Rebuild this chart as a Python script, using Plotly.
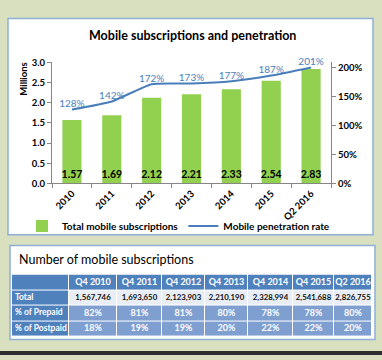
import plotly.graph_objects as go

# ---------------- data ----------------
years = ["2010", "2011", "2012", "2013", "2014", "2015", "Q2 2016"]
subs_millions = [1.57, 1.69, 2.12, 2.21, 2.33, 2.54, 2.83]
penetration_pct = [128, 142, 172, 173, 177, 187, 201]
right_ticks = [0, 50, 100, 150, 200]

table_cols = ["", "Q4 2010", "Q4 2011", "Q4 2012", "Q4 2013", "Q4 2014", "Q4 2015", "Q2 2016"]
row_labels = ["Total", "% of Prepaid", "% of Postpaid"]
totals = ["1,567,746", "1,693,650", "2,123,903", "2,210,190", "2,328,994", "2,541,688", "2,826,755"]
prepaid = ["82%", "81%", "81%", "80%", "78%", "78%", "80%"]
postpaid = ["18%", "19%", "19%", "20%", "22%", "22%", "20%"]

# ---------------- layout constants ----------------
W, H = 382, 360
FONT = "Lato"
BLUE_LINE = "#4a7ebb"
GREEN = "#92d050"
COL_W = [57, 48, 45, 43, 43, 45, 41, 38]   # table column widths (px)
ROW_H = 16                                  # table row height (px)
HDR_BLUE, LIGHT, MID_BLUE = "#4f81bd", "#e9edf4", "#7f9fd0"


def px_x(x):
    return x / W


def px_y(y):
    return 1 - y / H


fig = go.Figure()

fig.add_trace(go.Bar(
    x=years, y=subs_millions, name="Total mobile subscriptions",
    marker=dict(color=GREEN, line=dict(width=0)), width=0.48,
    text=[f"{v:.2f}" for v in subs_millions], textposition="inside",
    insidetextanchor="start", textangle=0, constraintext="none",
    textfont=dict(family=FONT, size=10.5, color="#000000", weight="bold"),
    cliponaxis=False,
))
fig.add_trace(go.Scatter(
    x=years, y=penetration_pct, name="Mobile penetration rate", yaxis="y2",
    mode="lines+text", line=dict(color=BLUE_LINE, width=2, shape="spline", smoothing=0.5),
    text=[f"{v}%" for v in penetration_pct], textposition="top center",
    textfont=dict(family=FONT, size=10, color=BLUE_LINE),
    cliponaxis=False,
))

# ---------------- table (heatmap cells + text) ----------------
edges = [0]
for w in COL_W:
    edges.append(edges[-1] + w)
n_rows = 1 + len(row_labels)
row_edges = [i * ROW_H for i in range(n_rows + 1)]
body = [totals, prepaid, postpaid]

# colour class per cell: 0 header/first column, 1 light row, 2 mid-blue rows
z = [[0] * len(table_cols)]
for r in range(len(row_labels)):
    z.append([0] + [1 if r == 0 else 2] * len(totals))

fig.add_trace(go.Heatmap(
    x=edges, y=row_edges, z=z, zmin=0, zmax=2, showscale=False, hoverinfo="skip",
    colorscale=[[0, HDR_BLUE], [0.25, HDR_BLUE], [0.25, LIGHT], [0.75, LIGHT],
                [0.75, MID_BLUE], [1, MID_BLUE]],
    xgap=1, ygap=1, xaxis="x3", yaxis="y3", showlegend=False,
))

tx, ty, tt, tc, tp, ts = [], [], [], [], [], []
for c, name in enumerate(table_cols):
    if name:
        tx.append((edges[c] + edges[c + 1]) / 2); ty.append(ROW_H / 2); tt.append(name)
        tc.append("white"); tp.append("middle center"); ts.append(9)
for r, lab in enumerate(row_labels):
    yc = (r + 1) * ROW_H + ROW_H / 2
    tx.append(edges[0] + 3); ty.append(yc); tt.append(lab)
    tc.append("white"); tp.append("middle right"); ts.append(8.5)
    for c in range(len(totals)):
        tx.append((edges[c + 1] + edges[c + 2]) / 2); ty.append(yc); tt.append(body[r][c])
        tc.append("#111111" if r == 0 else "white"); tp.append("middle center")
        ts.append(7.8 if r == 0 else 9)

fig.add_trace(go.Scatter(
    x=tx, y=ty, text=tt, mode="text", textposition=tp, xaxis="x3", yaxis="y3",
    textfont=dict(family=FONT, size=ts, color=tc, weight="bold"),
    hoverinfo="skip", showlegend=False, cliponaxis=False,
))

shapes = [
    dict(type="rect", xref="paper", yref="paper", x0=px_x(8), x1=px_x(373), y0=px_y(236), y1=px_y(13),
         fillcolor="white", line=dict(color="#8eaed8", width=1.5), layer="below"),
    dict(type="rect", xref="paper", yref="paper", x0=px_x(10), x1=px_x(375), y0=px_y(344), y1=px_y(247),
         fillcolor="white", line=dict(color="#8eaed8", width=1.5), layer="below"),
    dict(type="rect", xref="paper", yref="paper", x0=0, x1=1, y0=0, y1=px_y(356),
         fillcolor="#2e2e2e", line=dict(width=0), layer="below"),
]

annotations = [
    dict(text="<b>Mobile subscriptions and penetration</b>", xref="paper", yref="paper",
         x=px_x(192), y=px_y(30), showarrow=False, xanchor="center", yanchor="middle",
         font=dict(family=FONT, size=12.5, color="#000000")),
    dict(text="<b>Millions</b>", xref="paper", yref="paper", x=px_x(24), y=px_y(76),
         showarrow=False, textangle=-90, xanchor="center", yanchor="middle",
         font=dict(family=FONT, size=9.5, color="#000000")),
    dict(text="Number of mobile subscriptions", xref="paper", yref="paper",
         x=px_x(17), y=px_y(261), showarrow=False, xanchor="left", yanchor="middle",
         font=dict(family=FONT, size=12.5, color="#000000")),
]

axis_font = dict(family=FONT, size=9.5, color="#000000", weight="bold")

fig.update_layout(
    width=W, height=H, autosize=False,
    margin=dict(l=0, r=0, t=0, b=0),
    paper_bgcolor="#d8e0bf", plot_bgcolor="rgba(0,0,0,0)",
    showlegend=True,
    legend=dict(orientation="h", x=px_x(22), y=px_y(212), xanchor="left", yanchor="top",
                font=dict(family=FONT, size=10, color="#000000", weight="bold"),
                itemwidth=30, bgcolor="rgba(0,0,0,0)"),
    xaxis=dict(domain=[px_x(52), px_x(331)], type="category", tickangle=-45,
               showline=True, linecolor="#868686", linewidth=1, ticks="outside",
               tickson="boundaries", ticklen=4, tickcolor="#868686", showgrid=False,
               tickfont=axis_font, fixedrange=True),
    yaxis=dict(domain=[px_y(183), px_y(58)], range=[0, 3], dtick=0.5, tickformat=".1f",
               showline=True, linecolor="#868686", linewidth=1, ticks="outside", ticklen=4,
               tickcolor="#868686", showgrid=False, zeroline=False, tickfont=axis_font,
               fixedrange=True),
    yaxis2=dict(overlaying="y", side="right", range=[0, 210], tickvals=right_ticks,
                ticktext=[f"{t}%" for t in right_ticks], showline=True, linecolor="#868686",
                linewidth=1, ticks="outside", ticklen=4, tickcolor="#868686", showgrid=False,
                zeroline=False, tickfont=axis_font, anchor="x", fixedrange=True),
    xaxis3=dict(domain=[px_x(12), px_x(372)], range=[edges[0], edges[-1]], visible=False,
                anchor="y3", fixedrange=True),
    yaxis3=dict(domain=[px_y(341), px_y(277)], range=[row_edges[-1], row_edges[0]],
                visible=False, anchor="x3", fixedrange=True),
    shapes=shapes, annotations=annotations,
)

fig.write_html("out.html", config={"displayModeBar": False},
               post_script="document.body.style.margin='0';document.body.style.overflow='hidden';")
